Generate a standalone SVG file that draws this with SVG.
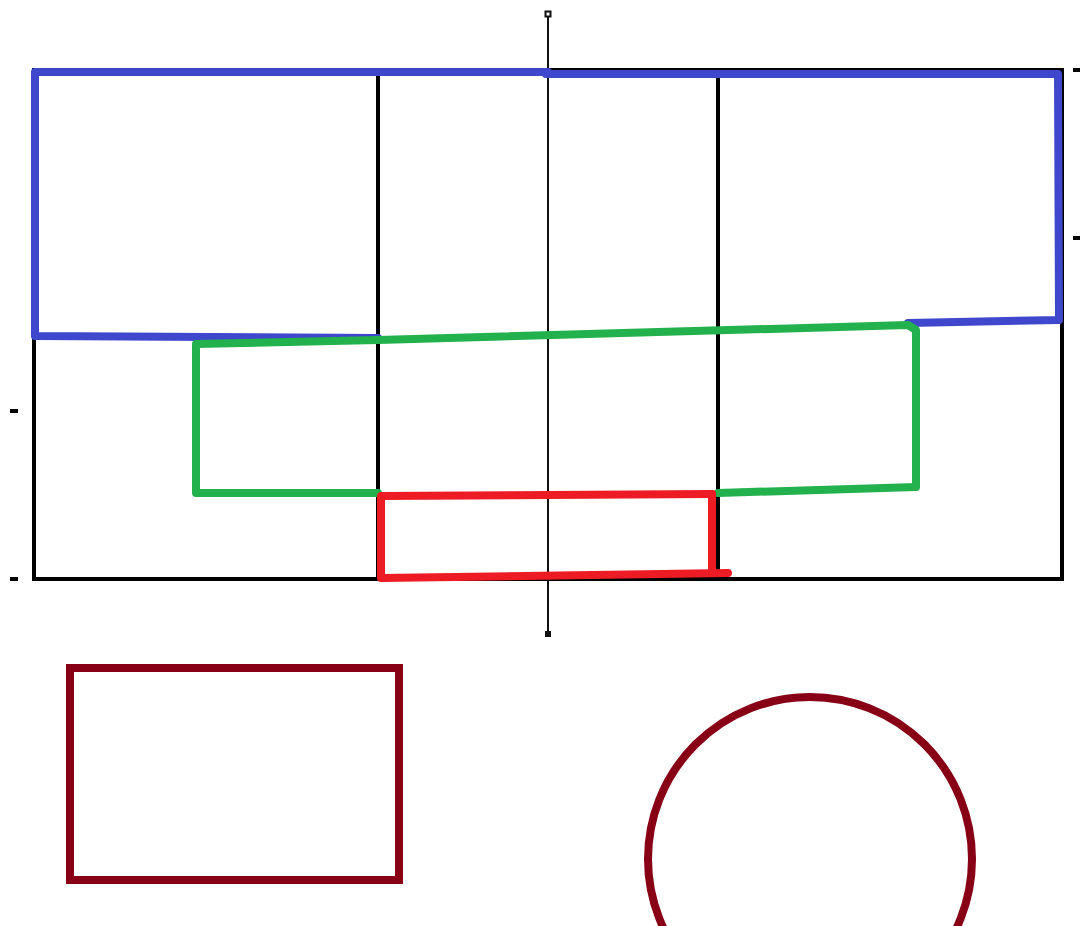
<svg xmlns="http://www.w3.org/2000/svg" width="1082" height="926" viewBox="0 0 1082 926">
<style>
.k{stroke:#000;fill:none;stroke-width:4}
.ax{stroke:#111;fill:none;stroke-width:2}
.b{stroke:#3f48cc;fill:none;stroke-width:8;stroke-linecap:round;stroke-linejoin:round}
.g{stroke:#22b14c;fill:none;stroke-width:8;stroke-linecap:round;stroke-linejoin:round}
.r{stroke:#ed1c24;fill:none;stroke-width:8;stroke-linecap:round;stroke-linejoin:round}
.d{stroke:#880015;fill:none;stroke-width:8}
</style>
<rect width="1082" height="926" fill="#fff"/>
<g id="grid">
<rect class="k" x="34" y="70" width="1028" height="509"/>
<line class="k" x1="378" y1="71" x2="378" y2="579"/>
<line class="k" x1="718" y1="71" x2="718" y2="579"/>
<line class="k" x1="1073" y1="70" x2="1080" y2="70"/>
<line class="k" x1="1073" y1="238" x2="1080" y2="238"/>
<line class="k" x1="10" y1="411" x2="18" y2="411"/>
<line class="k" x1="10" y1="579" x2="18" y2="579"/>
</g>
<g id="axis">
<line class="ax" x1="548" y1="16" x2="548" y2="634"/>
<rect x="545.5" y="11.5" width="5" height="5" fill="#fff" stroke="#111" stroke-width="2"/>
<rect x="545" y="631" width="6" height="6" fill="#111"/>
</g>
<g id="blue">
<polyline class="b" points="378,338 35,336 35,72 548,72"/>
<polyline class="b" points="546,74 1058,74 1059,320 908,323"/>
</g>
<g id="green">
<polyline class="g" points="378,340 908,325 916,330 916,487 718,493"/>
<polyline class="g" points="378,340 196,344 196,493 378,493"/>
</g>
<g id="red">
<polyline class="r" points="712,494 381,496 381,578 728,573"/>
<line class="r" x1="712" y1="494" x2="712" y2="573"/>
</g>
<g id="rect2">
<rect class="d" x="70" y="668" width="329" height="212"/>
</g>
<g id="circle">
<circle class="d" cx="810" cy="859" r="162"/>
</g>
</svg>
